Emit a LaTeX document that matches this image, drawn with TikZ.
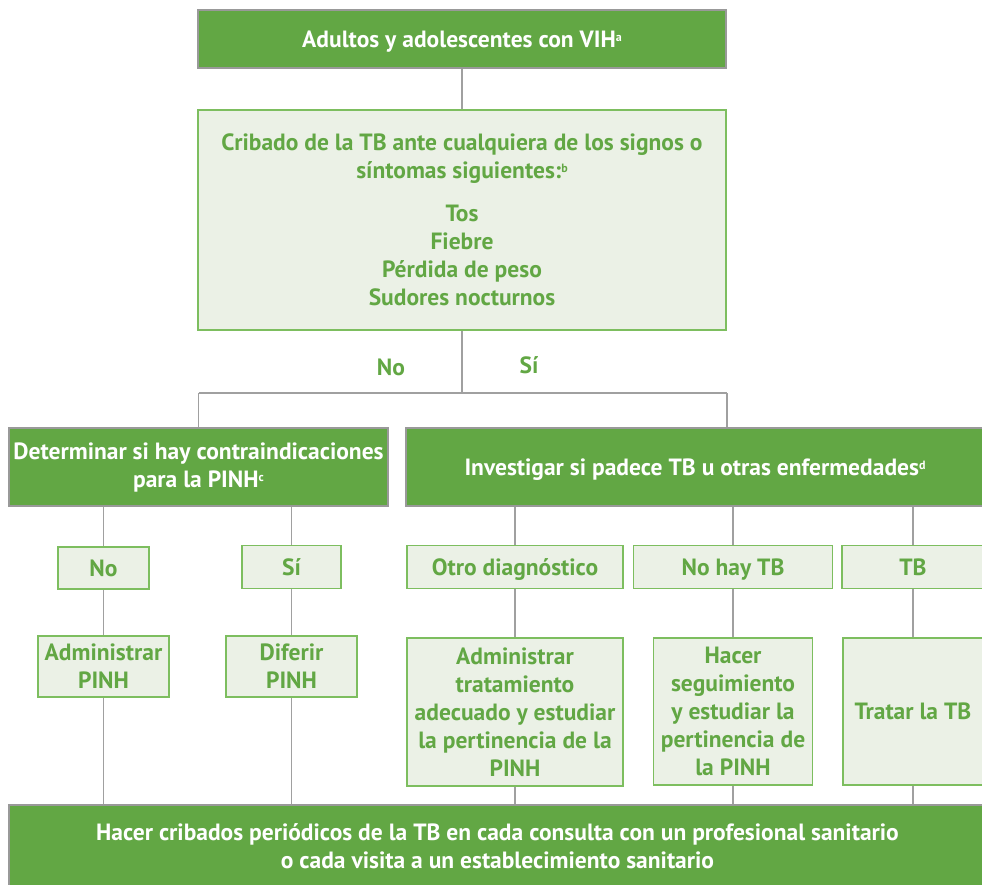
\documentclass[tikz,border=0pt]{standalone}
\usepackage{fontspec}
\setmainfont{PT Sans}
\usetikzlibrary{positioning}

\definecolor{leafgreen}{RGB}{98,167,68}
\definecolor{palegreen}{RGB}{235,241,230}
\definecolor{edgegreen}{RGB}{125,190,95}
\definecolor{linegrey}{RGB}{160,160,160}

\newcommand{\fnmark}[1]{\raisebox{6pt}{\fontsize{12}{12}\selectfont #1}}

\begin{document}
\begin{tikzpicture}[
  x=1pt, y=-1pt,
  font=\fontsize{23.5}{28}\selectfont\bfseries,
  darkbox/.style={draw=black!40, fill=leafgreen, text=white, line width=1.5pt,
                  rectangle, align=center, inner sep=0pt},
  lightbox/.style={draw=edgegreen, fill=palegreen, text=leafgreen, line width=1.5pt,
                   rectangle, align=center, inner sep=0pt},
  oneline/.style={text depth=0pt},
  conn/.style={draw=linegrey, line width=1.5pt},
  answer/.style={text=leafgreen, inner sep=0pt},
]
  \useasboundingbox (0,0) rectangle (982,885);

  % --- Column positions ---
  \def\xNo{103.5}   % no contraindications
  \def\xSi{291.5}   % contraindications
  \def\xOtro{515}   % other diagnosis
  \def\xNoTB{733}   % no TB
  \def\xTB{913}     % TB

  % --- Top and screening ---
  \node[darkbox, oneline, minimum width=528, minimum height=58] (adults) at (462,39)
    {Adultos y adolescentes con VIH\fnmark{a}};
  \node[lightbox, minimum width=528, minimum height=220] (screen) at (462,220)
    {Cribado de la TB ante cualquiera de los signos o\\
     síntomas siguientes:\fnmark{b}\\[15pt]
     Tos\\ Fiebre\\ Pérdida de peso\\ Sudores nocturnos};

  % --- Second level ---
  \node[darkbox, minimum width=379, minimum height=78] (contra) at (198.5,467)
    {Determinar si hay contraindicaciones\\ para la PINH\fnmark{c}};
  \node[darkbox, oneline, minimum width=578, minimum height=78] (invest) at (695,467)
    {Investigar si padece TB u otras enfermedades\fnmark{d}};

  % --- Answers ---
  \node[lightbox, oneline, minimum width=91, minimum height=42] (noC) at (\xNo,568) {No};
  \node[lightbox, oneline, minimum width=99, minimum height=43] (siC) at (\xSi,567) {Sí};
  \node[lightbox, oneline, minimum width=216, minimum height=43] (otro) at (\xOtro,567)
    {Otro diagnóstico};
  \node[lightbox, oneline, minimum width=199, minimum height=43] (notb) at (\xNoTB,567)
    {No hay TB};
  \node[lightbox, oneline, minimum width=142, minimum height=43] (tb) at (\xTB,567) {TB};

  % --- Actions ---
  \node[lightbox, minimum width=131, minimum height=61] (admin) at (\xNo,666.5)
    {Administrar\\ PINH};
  \node[lightbox, minimum width=131, minimum height=61] (defer) at (\xSi,666.5)
    {Diferir\\ PINH};
  \node[lightbox, minimum width=216, minimum height=148] (treatother) at (\xOtro,712)
    {Administrar\\ tratamiento\\ adecuado y estudiar\\ la pertinencia de la\\ PINH};
  \node[lightbox, minimum width=159, minimum height=147] (follow) at (\xNoTB,711.5)
    {Hacer\\ seguimiento\\ y estudiar la\\ pertinencia de\\ la PINH};
  \node[lightbox, oneline, minimum width=140, minimum height=147] (treattb) at (\xTB,711.5)
    {Tratar la TB};

  % --- Bottom ---
  \node[darkbox, minimum width=977, minimum height=82] (periodic) at (497.5,846)
    {Hacer cribados periódicos de la TB en cada consulta con un profesional sanitario\\
     o cada visita a un establecimiento sanitario};

  % --- Connectors ---
  \coordinate (fork) at (462,393);
  \coordinate (forkL) at (contra.north |- fork);
  \coordinate (forkR) at (screen.south east |- fork);
  \draw[conn] (adults) -- (screen);
  \draw[conn] (screen) -- (fork);
  \draw[conn] (forkL) -- (forkR);
  \draw[conn] (forkL) -- (contra);
  \draw[conn] (forkR) -- (forkR |- invest.north);
  \node[answer] (noLbl) at (391,367) {No};
  \node[answer] (siLbl) at (529,365) {Sí};

  \foreach \src/\mid/\dst in {noC/noC/admin, siC/siC/defer, otro/otro/treatother,
                              notb/notb/follow, tb/tb/treattb} {
    \draw[conn] (\mid.north |- invest.south) -- (\mid.north);
    \draw[conn] (\src) -- (\dst);
    \draw[conn] (\dst.south) -- (\dst.south |- periodic.north);
  }

\end{tikzpicture}
\end{document}
